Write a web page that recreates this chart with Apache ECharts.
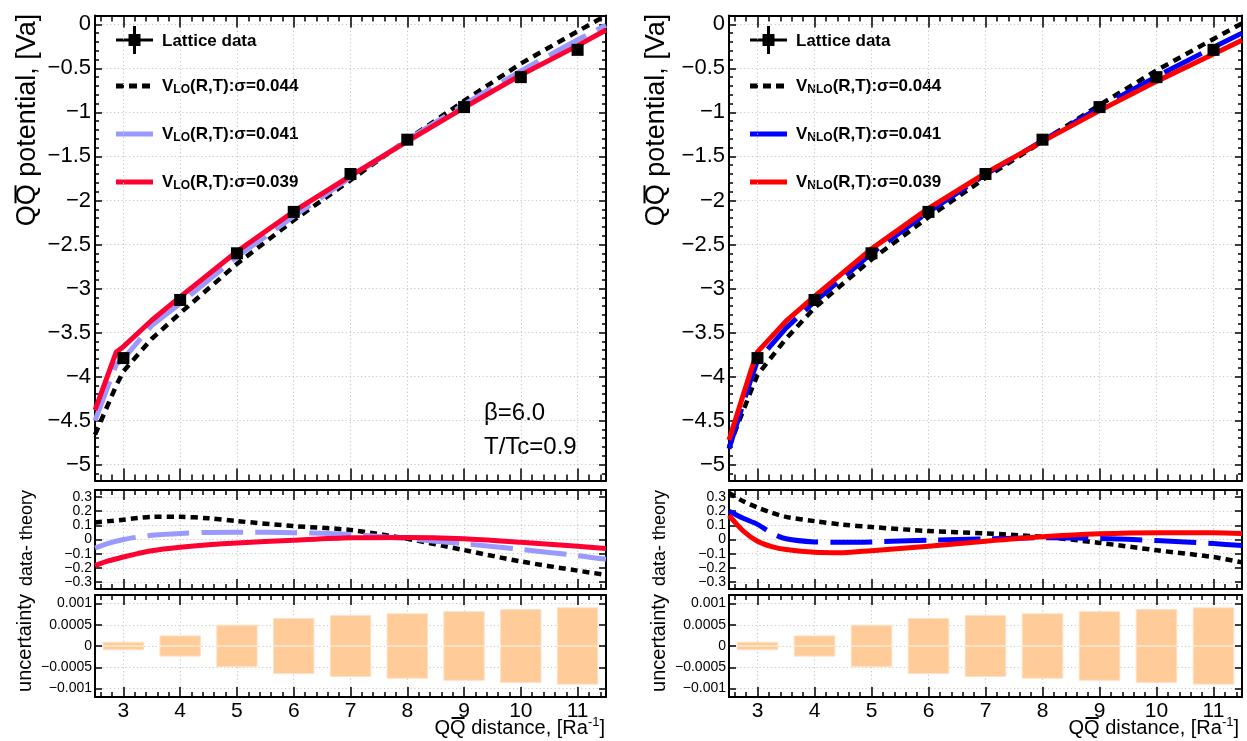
<!DOCTYPE html>
<html><head><meta charset="utf-8">
<script src="https://cdn.jsdelivr.net/npm/echarts@6/dist/echarts.min.js"></script>
<style>html,body{margin:0;padding:0;background:#fff}#c{width:1247px;height:741px}</style>
</head><body><div id="c"></div>
<script>
// ---------------- DATA ----------------
const latticeR = [3, 4, 5, 6, 7, 8, 9, 10, 11];
const latticeV = [-3.79, -3.13, -2.60, -2.13, -1.70, -1.31, -0.94, -0.60, -0.29];
const uncert   = [0.0001, 0.00025, 0.0005, 0.00066, 0.00073, 0.00077, 0.00082, 0.00087, 0.00091];

const mainR = [2.5, 2.875, 3, 3.5, 4, 5, 6, 7, 8, 9, 10, 11, 11.5];
// left panel (LO)
const lo044 = [-4.66, -4.10, -3.94, -3.57, -3.28, -2.72, -2.225, -1.77, -1.31, -0.87, -0.445, -0.08, 0.10];
const lo041 = [-4.50, -3.86, -3.80, -3.42, -3.17, -2.64, -2.18, -1.74, -1.315, -0.91, -0.53, -0.176, -0.01];
const lo039 = [-4.38, -3.72, -3.66, -3.36, -3.095, -2.58, -2.125, -1.72, -1.33, -0.945, -0.576, -0.242, -0.065];
// right panel (NLO)
const nlo044 = [-4.80, -4.18, -3.98, -3.57, -3.22, -2.67, -2.19, -1.743, -1.329, -0.916, -0.524, -0.166, 0.01];
const nlo041 = [-4.82, -4.05, -3.82, -3.45, -3.15, -2.60, -2.13, -1.705, -1.322, -0.947, -0.593, -0.261, -0.10];
const nlo039 = [-4.72, -3.95, -3.72, -3.37, -3.09, -2.55, -2.09, -1.69, -1.33, -0.98, -0.648, -0.338, -0.18];

const resR = [2.5, 2.75, 3, 3.25, 3.5, 4, 4.5, 5, 6, 7, 8, 9, 10, 11, 11.5];
const resLo044 = [0.12, 0.13, 0.14, 0.152, 0.16, 0.16, 0.15, 0.13, 0.095, 0.067, 0.005, -0.075, -0.155, -0.22, -0.25];
const resLo041 = [-0.06, -0.025, 0.0, 0.017, 0.03, 0.043, 0.05, 0.052, 0.048, 0.036, 0.005, -0.03, -0.07, -0.114, -0.14];
const resLo039 = [-0.185, -0.15, -0.124, -0.10, -0.079, -0.055, -0.037, -0.024, -0.005, 0.012, 0.015, 0.005, -0.02, -0.048, -0.064];
const resNlo044 = [0.33, 0.27, 0.226, 0.19, 0.16, 0.13, 0.105, 0.088, 0.06, 0.043, 0.019, -0.024, -0.076, -0.124, -0.162];
const resNlo041 = [0.20, 0.15, 0.107, 0.045, 0.005, -0.017, -0.02, -0.017, -0.005, 0.005, 0.012, 0.007, -0.007, -0.029, -0.043];
const resNlo039 = [0.17, 0.06, -0.012, -0.05, -0.071, -0.09, -0.093, -0.079, -0.048, -0.012, 0.019, 0.04, 0.048, 0.048, 0.043];

const sigmaLabels = ['0.044', '0.041', '0.039'];

// ---------------- LAYOUT / STYLE ----------------
const FONT = '"Liberation Sans", Arial, Helvetica, sans-serif';
const LAV = '#9999ff', REDL = '#ff0033', BLUE = '#0000ff', REDR = '#ff0000', BAR = '#ffcc99';
const PANELS = [{left: 95, width: 511}, {left: 729, width: 513}];
const ROWS = [{top: 15.5, height: 465}, {top: 490, height: 99}, {top: 595, height: 102}];
const GRIDSTYLE = {color: '#c8c8c8', type: [1.2, 2.6], width: 1.1};

const cvs = document.createElement('canvas').getContext('2d');
function tw(text, size, weight) { cvs.font = (weight || 'normal') + ' ' + size + 'px ' + FONT; return cvs.measureText(text).width; }

function fmtStep(step) {
  return v => {
    const r = Math.round(v / step) * step;
    if (Math.abs(v - r) > step * 1e-6) return '';
    const rr = parseFloat(r.toPrecision(6));
    if (rr === 0) return '0';
    return (rr < 0 ? '\u2212' : '') + String(Math.abs(rr));
  };
}

const yCfg = [
  {min: -5.18, max: 0.1, step: 0.5, minor: 5, tick: 7, mtick: 4, font: 22, margin: 4, showMinor: true},
  {min: -0.35, max: 0.35, step: 0.1, minor: 2, tick: 7, mtick: 4, font: 14, margin: 3, showMinor: false},
  {min: -0.0012, max: 0.0012, step: 0.0005, minor: 2, tick: 7, mtick: 4, font: 14, margin: 3, showMinor: false}
];
const xTickLen = [[12, 6], [10, 5], [10, 5]];

const grid = [], xAxis = [], yAxis = [];
PANELS.forEach(p => ROWS.forEach(r => grid.push({left: p.left, top: r.top, width: p.width, height: r.height})));

function axisX(gi, pos, labels, split, tl) {
  return {
    type: 'value', gridIndex: gi, position: pos, min: 2.5, max: 11.5,
    minInterval: 1, maxInterval: 1, splitNumber: 9,
    axisLine: {show: true, onZero: false, lineStyle: {color: '#000', width: 2}},
    axisTick: {show: true, inside: true, length: tl[0], lineStyle: {color: '#000', width: 1.5}},
    minorTick: {show: true, splitNumber: 5, length: tl[1], lineStyle: {color: '#000', width: 1.5}},
    splitLine: {show: split, lineStyle: GRIDSTYLE},
    minorSplitLine: {show: false},
    axisLabel: {show: labels, formatter: fmtStep(1), fontSize: 21, fontFamily: FONT, color: '#000', margin: 4}
  };
}
function axisY(gi, pos, labels, split, c) {
  return {
    type: 'value', gridIndex: gi, position: pos, min: c.min, max: c.max,
    minInterval: c.step, maxInterval: c.step, splitNumber: Math.round((c.max - c.min) / c.step),
    axisLine: {show: true, onZero: false, lineStyle: {color: '#000', width: 2}},
    axisTick: {show: true, inside: true, length: c.tick, lineStyle: {color: '#000', width: 1.5}},
    minorTick: {show: c.showMinor, splitNumber: c.minor, length: c.mtick, lineStyle: {color: '#000', width: 1.5}},
    splitLine: {show: split, lineStyle: GRIDSTYLE},
    minorSplitLine: {show: false},
    axisLabel: {show: labels, formatter: fmtStep(c.step), fontSize: c.font, fontFamily: FONT, color: '#000', margin: c.margin}
  };
}
for (let p = 0; p < 2; p++) for (let r = 0; r < 3; r++) {
  const gi = p * 3 + r;
  xAxis.push(axisX(gi, 'bottom', r === 2, true, xTickLen[r]));
  xAxis.push(axisX(gi, 'top', false, false, xTickLen[r]));
  yAxis.push(axisY(gi, 'left', true, true, yCfg[r]));
  yAxis.push(axisY(gi, 'right', false, false, yCfg[r]));
}

function zip(xs, ys) { return xs.map((x, i) => [x, ys[i]]); }
function line(gi, xs, ys, color, width, dash, smooth, z) {
  return {type: 'line', xAxisIndex: 2 * gi, yAxisIndex: 2 * gi, data: zip(xs, ys),
    symbol: 'none', showSymbol: false, smooth: smooth, clip: true, z: z,
    lineStyle: {color: color, width: width, type: dash, cap: 'butt', join: 'round', opacity: 1}};
}
const DOT = [8, 6], DASH = [42, 12];
const series = [];
function scatter(gi) {
  return {type: 'scatter', xAxisIndex: 2 * gi, yAxisIndex: 2 * gi, data: zip(latticeR, latticeV),
    symbol: 'rect', symbolSize: 12, itemStyle: {color: '#000', opacity: 1}, z: 10,
    emphasis: {disabled: true}};
}
// left
series.push(line(0, mainR, lo044, '#000', 4.5, DOT, false, 3));
series.push(line(0, mainR, lo041, LAV, 5, DASH, false, 4));
series.push(line(0, mainR, lo039, REDL, 5, 'solid', false, 5));
series.push(scatter(0));
series.push(line(1, resR, resLo044, '#000', 4.5, [7, 5], 0.3, 3));
series.push(line(1, resR, resLo041, LAV, 5, DASH, 0.3, 4));
series.push(line(1, resR, resLo039, REDL, 5, 'solid', 0.3, 5));
// right
series.push(line(3, mainR, nlo044, '#000', 4.5, DOT, false, 3));
series.push(line(3, mainR, nlo041, BLUE, 5, DASH, false, 4));
series.push(line(3, mainR, nlo039, REDR, 5, 'solid', false, 5));
series.push(scatter(3));
series.push(line(4, resR, resNlo044, '#000', 4.5, [7, 5], 0.3, 3));
series.push(line(4, resR, resNlo041, BLUE, 5, DASH, 0.3, 4));
series.push(line(4, resR, resNlo039, REDR, 5, 'solid', 0.3, 5));
// uncertainty bars
[2, 5].forEach(gi => {
  series.push({type: 'bar', xAxisIndex: 2 * gi, yAxisIndex: 2 * gi, data: zip(latticeR, uncert), barWidth: '73%', barGap: '-100%', itemStyle: {color: BAR, borderColor: '#ffe2c6', borderWidth: 1}});
  series.push({type: 'bar', xAxisIndex: 2 * gi, yAxisIndex: 2 * gi, data: zip(latticeR, uncert.map(u => -u)), barWidth: '73%', barGap: '-100%', itemStyle: {color: BAR, borderColor: '#ffe2c6', borderWidth: 1}});
});

// ---------------- GRAPHIC (legend, titles) ----------------
const G = [];
function legend(ox, sub, colors, dashes) {
  const x1 = 116 + ox, x2 = 153 + ox, tx = 162 + ox;
  G.push({type: 'line', shape: {x1: x1, y1: 40, x2: x2, y2: 40}, style: {stroke: '#000', lineWidth: 3}, silent: true});
  G.push({type: 'line', shape: {x1: (x1 + x2) / 2, y1: 26, x2: (x1 + x2) / 2, y2: 54}, style: {stroke: '#000', lineWidth: 3}, silent: true});
  G.push({type: 'rect', shape: {x: (x1 + x2) / 2 - 6, y: 34, width: 12, height: 12}, style: {fill: '#000'}, silent: true});
  G.push({type: 'text', x: tx, y: 41, style: {text: 'Lattice data', fontSize: 17, fontWeight: 'bold', fontFamily: FONT, fill: '#000', verticalAlign: 'middle'}, silent: true});
  const ys = [86, 134, 182];
  ys.forEach((y, i) => {
    G.push({type: 'line', shape: {x1: x1, y1: y, x2: x2, y2: y}, style: {stroke: colors[i], lineWidth: 5, lineDash: dashes[i]}, silent: true});
    G.push({type: 'text', x: tx, y: y, style: {
      text: '{b|V}{s|' + sub + '}{b|(R,T):}{b|\u03c3=' + sigmaLabels[i] + '}',
      verticalAlign: 'middle', fill: '#000',
      rich: {
        b: {fontSize: 17, fontWeight: 'bold', fontFamily: FONT, fill: '#000', lineHeight: 20},
        s: {fontSize: 12, fontWeight: 'bold', fontFamily: FONT, fill: '#000', lineHeight: 8, verticalAlign: 'bottom'}
      }}, silent: true});
  });
}
legend(0, 'LO', ['#000', LAV, REDL], [[8, 5], null, null]);
legend(634, 'NLO', ['#000', BLUE, REDR], [[8, 5], null, null]);

function yTitle(cx, cy) {
  const size = 27, txt = 'QQ potential, [Va]';
  const W = tw(txt, size), wQ = tw('Q', size);
  G.push({type: 'group', x: cx, y: cy, rotation: Math.PI / 2, silent: true, children: [
    {type: 'text', style: {text: txt, fontSize: size, fontFamily: FONT, fill: '#000', align: 'center', verticalAlign: 'middle'}},
    {type: 'line', shape: {x1: -W / 2 + wQ + 2, y1: -12.5, x2: -W / 2 + 2 * wQ - 1, y2: -12.5}, style: {stroke: '#000', lineWidth: 2}}
  ]});
}
yTitle(28, 120);
yTitle(657, 120);

function vText(txt, cx, cy, size) {
  G.push({type: 'text', x: cx, y: cy, rotation: Math.PI / 2, silent: true,
    style: {text: txt, fontSize: size, fontFamily: FONT, fill: '#000', align: 'center', verticalAlign: 'middle'}});
}
vText('data- theory', 27, 538, 18);
vText('uncertainty', 25, 643, 20);
vText('data- theory', 660, 538, 18);
vText('uncertainty', 659, 643, 20);

function xTitle(right, cy) {
  const size = 20, ssize = 13;
  const W = tw('QQ distance, [Ra', size) + tw('-1', ssize) + tw(']', size);
  const wQ = tw('Q', size);
  const xs = right - W;
  G.push({type: 'text', x: right, y: cy, silent: true, style: {
    text: '{n|QQ distance, [Ra}{s|-1}{n|]}', align: 'right', verticalAlign: 'middle', fill: '#000',
    rich: {n: {fontSize: size, fontFamily: FONT, fill: '#000', lineHeight: 24},
           s: {fontSize: ssize, fontFamily: FONT, fill: '#000', lineHeight: 14, verticalAlign: 'top'}}}});
  G.push({type: 'line', silent: true, shape: {x1: xs + wQ + 1.5, y1: cy - 10, x2: xs + 2 * wQ - 1, y2: cy - 10}, style: {stroke: '#000', lineWidth: 2}});
}
xTitle(605, 728);
xTitle(1239, 728);

G.push({type: 'text', x: 484, y: 413, silent: true, style: {text: '\u03b2=6.0', fontSize: 24, fontFamily: FONT, fill: '#000', verticalAlign: 'middle'}});
G.push({type: 'text', x: 484, y: 447, silent: true, style: {text: 'T/Tc=0.9', fontSize: 24, fontFamily: FONT, fill: '#000', verticalAlign: 'middle'}});

const chart = echarts.init(document.getElementById('c'), null, {renderer: 'canvas'});
chart.setOption({
  animation: false,
  backgroundColor: '#fff',
  grid: grid, xAxis: xAxis, yAxis: yAxis, series: series,
  graphic: {elements: G}
});
</script></body></html>
